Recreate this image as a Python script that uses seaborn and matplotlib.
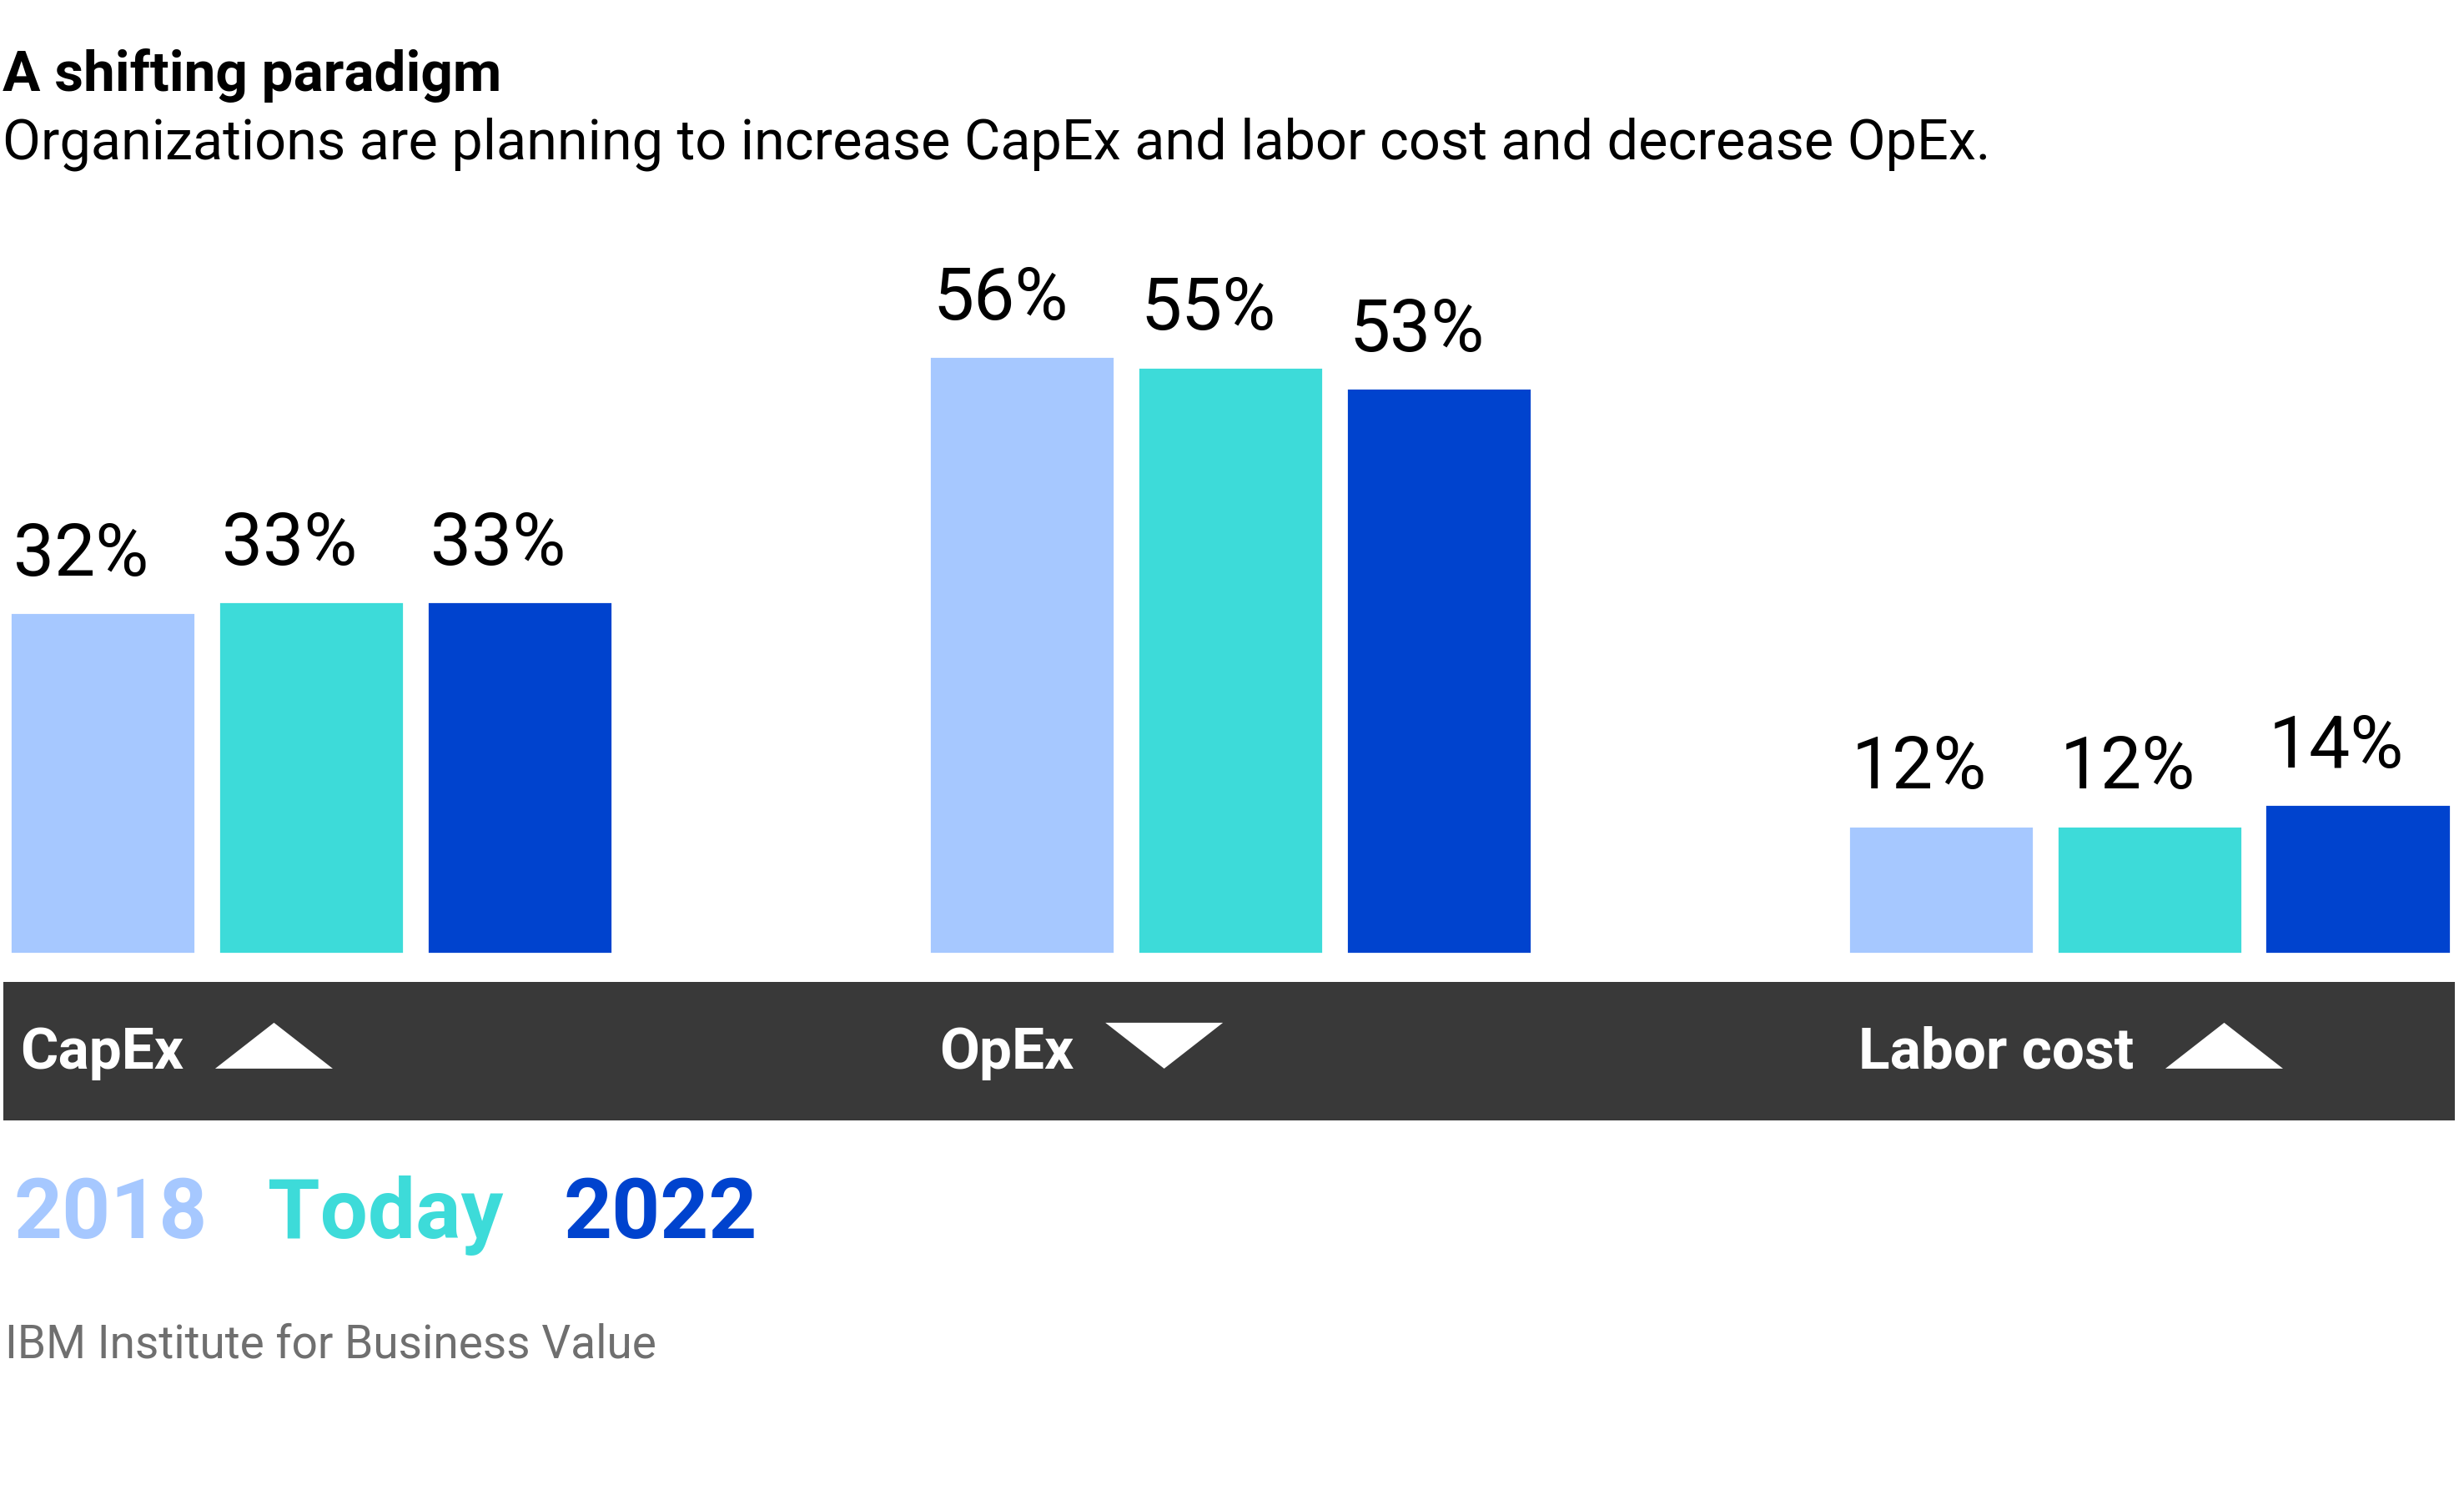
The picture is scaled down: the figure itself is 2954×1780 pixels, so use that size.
import pandas as pd
import matplotlib
matplotlib.use("Agg")
import matplotlib.pyplot as plt
from matplotlib.patches import Rectangle, Polygon
import seaborn as sns

# data
categories = ["CapEx", "OpEx", "Labor cost"]
periods = ["2018", "Today", "2022"]
values_2018 = [32, 56, 12]
values_today = [33, 55, 12]
values_2022 = [33, 53, 14]
directions = ["up", "down", "up"]

colors = ["#a6c8ff", "#3ddbd9", "#0043ce"]
band_color = "#393939"

title = "A shifting paradigm"
subtitle = "Organizations are planning to increase CapEx and labor cost and decrease OpEx."
source = "IBM Institute for Business Value"

df = pd.DataFrame({
    "category": categories * 3,
    "period": [p for p in periods for _ in categories],
    "value": values_2018 + values_today + values_2022,
})

sns.set_theme(style="white")
plt.rcParams["font.family"] = ["Roboto", "DejaVu Sans"]

W, H, DPI = 2954, 1780, 200
fig = plt.figure(figsize=(W / DPI, H / DPI), dpi=DPI)
fig.patch.set_facecolor("white")

ax = fig.add_axes([0.00128, 0.3577, 0.9949, 0.4836])
sns.barplot(data=df, x="category", y="value", hue="period", order=categories,
            hue_order=periods, palette=colors, saturation=1, width=0.68, gap=0.11,
            legend=False, ax=ax)
ax.set_xlim(-0.335, 2.332)
ax.set_ylim(0, 67.3)
ax.set_axis_off()

# value labels, left aligned with each bar
for cont in ax.containers:
    for bar in cont:
        h = bar.get_height()
        ax.annotate(f"{h:.0f}%", (bar.get_x(), h), xytext=(1.5, 16),
                    textcoords="offset points", ha="left", va="baseline",
                    fontsize=31.5, color="black")

# titles
fig.text(0.001, 0.9386, title, fontsize=24.3, fontweight="bold", color="black")
fig.text(0.001, 0.8931, subtitle, fontsize=24, color="black")

# dark category band
fig.patches.append(Rectangle((0.00128, 0.2455), 0.9949, 0.0931,
                             transform=fig.transFigure, facecolor=band_color,
                             edgecolor="none", zorder=0))

band_y = 0.2804
band_texts = []
first_bars = ax.containers[0]
for i, cat in enumerate(categories):
    x_left = first_bars[i].get_x()
    x_fig = fig.transFigure.inverted().transform(
        ax.transData.transform((x_left, 0)))[0]
    t = fig.text(x_fig + 0.004, band_y, cat, fontsize=25, fontweight="bold",
                 color="white", va="baseline")
    band_texts.append(t)

fig.canvas.draw()
renderer = fig.canvas.get_renderer()
inv = fig.transFigure.inverted()
tri_w, tri_h, tri_gap = 141 / W, 55 / H, 38 / W
for t, d in zip(band_texts, directions):
    bb = t.get_window_extent(renderer)
    x0 = inv.transform((bb.x1, 0))[0] + tri_gap
    if d == "up":
        pts = [(x0, band_y), (x0 + tri_w, band_y), (x0 + tri_w / 2, band_y + tri_h)]
    else:
        pts = [(x0, band_y + tri_h), (x0 + tri_w, band_y + tri_h), (x0 + tri_w / 2, band_y)]
    fig.patches.append(Polygon(pts, closed=True, transform=fig.transFigure,
                               facecolor="white", edgecolor="none"))

# colored legend words
x = 0.0057
for p, c in zip(periods, colors):
    t = fig.text(x, 0.1661, p, fontsize=36.5, fontweight="bold", color=c, va="baseline")
    fig.canvas.draw()
    bb = t.get_window_extent(renderer)
    x = inv.transform((bb.x1, 0))[0] + 72 / W

fig.text(0.002, 0.0857, source, fontsize=19.8, color="#6f6f6f", va="baseline")

fig.savefig("out.png", dpi=DPI, facecolor="white")
